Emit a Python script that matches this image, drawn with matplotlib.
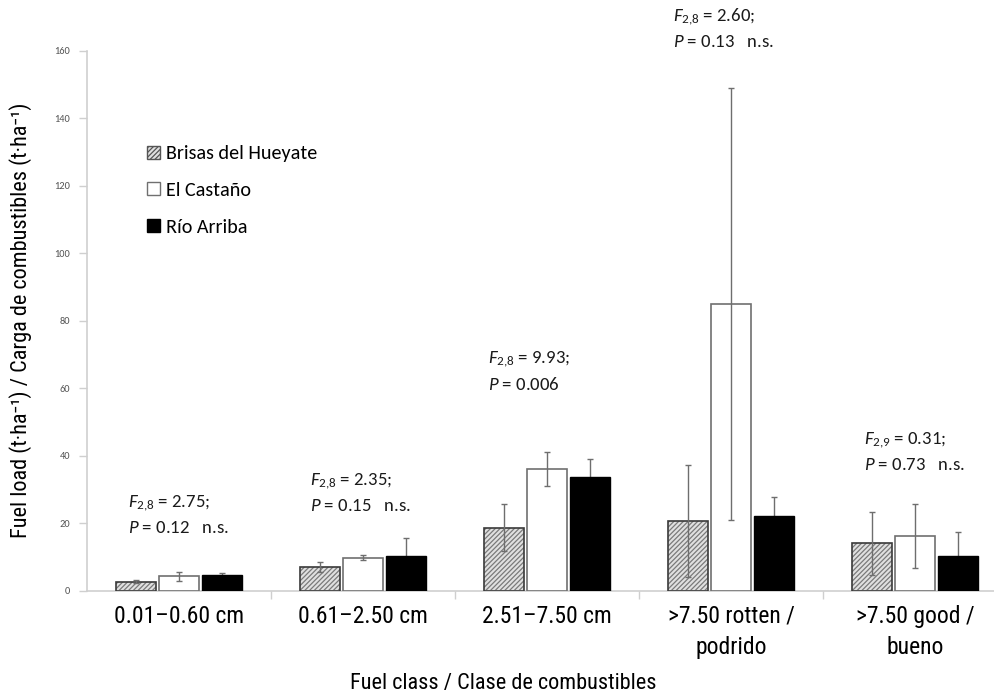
import matplotlib
matplotlib.use("Agg")
import matplotlib.pyplot as plt
from matplotlib.patches import Patch
from matplotlib import font_manager as fm
import numpy as np

available = {f.name for f in fm.fontManager.ttflist}
def pick(cands):
    return [c for c in cands if c in available] + ['DejaVu Sans']

COND = pick(['Roboto Condensed', 'Archivo Narrow', 'PT Sans Narrow', 'IBM Plex Sans Condensed'])
CALI = pick(['Carlito', 'Lato'])

plt.rcParams['mathtext.fontset'] = 'custom'
plt.rcParams['mathtext.rm'] = CALI[0]
plt.rcParams['mathtext.it'] = CALI[0] + ':italic'

categories = ["0.01\u20130.60 cm", "0.61\u20132.50 cm", "2.51\u20137.50 cm",
              ">7.50 rotten /\npodrido", ">7.50 good /\nbueno"]
series = ["Brisas del Hueyate", "El Castaño", "Río Arriba"]
brisas = [2.7, 7.1, 18.7, 20.6, 14.0]
brisas_err = [0.5, 1.5, 7.0, 16.5, 9.4]
castano = [4.3, 9.8, 36.0, 85.0, 16.2]
castano_err = [1.3, 0.8, 5.1, 64.0, 9.5]
rio = [4.6, 10.2, 33.8, 22.1, 10.2]
rio_err = [0.6, 5.4, 5.2, 5.7, 7.3]
f_labels = ["2{,}8", "2{,}8", "2{,}8", "2{,}8", "2{,}9"]
f_values = ["2.75", "2.35", "9.93", "2.60", "0.31"]
p_values = ["0.12", "0.15", "0.006", "0.13", "0.73"]
ns_flags = [True, True, False, True, True]
yticks = [0, 20, 40, 60, 80, 100, 120, 140, 160]

W, H = 995, 696
fig = plt.figure(figsize=(W / 100, H / 100), dpi=100)
ax = fig.add_axes([87 / W, 1 - 590.7 / H, 920 / W, 540 / H])

x = np.arange(len(categories))
bw = 0.217
off = 0.234
errc = '#6e6e6e'
ekw = dict(ecolor=errc, elinewidth=1.0, capsize=2.5, capthick=1.0)

plt.rcParams['hatch.color'] = '#7a7a7a'
plt.rcParams['hatch.linewidth'] = 0.9
ax.bar(x - off, brisas, bw, color='#e0e0e0', hatch='///////', edgecolor='#7a7a7a', linewidth=0, zorder=2)
ax.bar(x - off, brisas, bw, fill=False, edgecolor='#3a3a3a', linewidth=1.2, zorder=3)
ax.errorbar(x - off, brisas, yerr=brisas_err, fmt='none', zorder=4, **ekw)
ax.bar(x, castano, bw, color='white', edgecolor='#707070', linewidth=1.2, zorder=3)
ax.errorbar(x, castano, yerr=castano_err, fmt='none', zorder=4, **ekw)
ax.bar(x + off, rio, bw, color='black', edgecolor='black', linewidth=1.0, zorder=3)
ax.errorbar(x + off, rio, yerr=rio_err, fmt='none', zorder=2, **ekw)

ax.set_xlim(-0.5, len(categories) - 0.5)
ax.set_ylim(0, 160)
ax.set_yticks(yticks)
ax.set_yticklabels([str(v) for v in yticks], fontsize=7.5, color='#555555', family=CALI)
ax.tick_params(axis='y', length=6, color='#cfcfcf', width=1, pad=6)

ax.set_xticks(x)
ax.set_xticklabels(categories, fontsize=17, family=COND, linespacing=1.45)
ax.tick_params(axis='x', which='major', length=0, pad=10)
ax.set_xticks(np.arange(0.5, len(categories) - 0.5, 1.0), minor=True)
ax.tick_params(axis='x', which='minor', length=6, color='#cfcfcf', width=1)

for s in ['top', 'right']:
    ax.spines[s].set_visible(False)
for s in ['left', 'bottom']:
    ax.spines[s].set_color('#cfcfcf')
    ax.spines[s].set_linewidth(1.2)

ax.set_ylabel("Fuel load (t·ha\u207b\u00b9) / Carga de combustibles (t·ha\u207b\u00b9)",
              fontsize=16, family=COND, labelpad=16)
fig.text(503 / W, 1 - 683 / H, "Fuel class / Clase de combustibles", ha='center', va='center',
         fontsize=16, family=COND)

# annotations: left x pixel, F-line y pixel
ann_pos = [(128, 503), (310, 481), (488, 359), (673, 17), (864, 440)]
for i, (px, py) in enumerate(ann_pos):
    fig.text(px / W, 1 - py / H, r"$\mathit{F}_{" + f_labels[i] + "}$ = " + f_values[i] + ";",
             ha='left', va='center', fontsize=13.5, family=CALI, color='#1a1a1a')
    ptxt = r"$\mathit{P}$ = " + p_values[i] + ("   n.s." if ns_flags[i] else "")
    fig.text(px / W, 1 - (py + 25) / H, ptxt, ha='left', va='center', fontsize=13.5,
             family=CALI, color='#1a1a1a')

handles = [Patch(facecolor='#e0e0e0', hatch='///////', edgecolor='#555555', linewidth=1),
           Patch(facecolor='white', edgecolor='#707070', linewidth=1),
           Patch(facecolor='black', edgecolor='black', linewidth=1)]
leg = fig.legend(handles, series, loc='upper left', bbox_to_anchor=(129 / W, 1 - 127 / H),
                 frameon=False, prop={'family': CALI, 'size': 14.5},
                 handlelength=0.62, handleheight=0.62, handletextpad=0.3, labelspacing=0.98)

fig.savefig("out.png", dpi=100)
